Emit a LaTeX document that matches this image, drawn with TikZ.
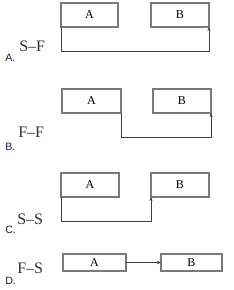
\documentclass[tikz,border=0pt]{standalone}
\usepackage{fontspec}
\setmainfont{Liberation Serif}
\setsansfont{Liberation Sans}
\usetikzlibrary{arrows.meta}
\definecolor{boxgray}{HTML}{7A7A7A}
\definecolor{linegray}{HTML}{404040}
\definecolor{navy}{HTML}{1A1A50}
\definecolor{textgray}{HTML}{303030}
\tikzset{
  box/.style={draw=boxgray, line width=0.8pt, inner sep=0pt, outer sep=0pt,
    minimum height=18pt, font=\fontsize{9}{10}\selectfont},
  conn/.style={draw=linegray, line width=0.7pt, -{Stealth[length=3pt,width=2.5pt]}},
  rel/.style={anchor=base west, inner sep=0pt, text=textgray, font=\fontsize{12}{13}\selectfont},
  opt/.style={anchor=base west, inner sep=0pt, text=navy, font=\sffamily\fontsize{8}{9}\selectfont}
}
\begin{document}
\begin{tikzpicture}[x=0.75pt, y=-0.75pt]
\useasboundingbox (0,0) rectangle (233,290);
% Panel A
\node[box, minimum width=42.75pt] (a1) at (89.5,15) {A};
\node[box, minimum width=43.5pt] (b1) at (180,15) {B};
\coordinate (c1) at (61,51);
\draw[conn] (a1.south west) -- (c1) -| (b1.south east);
\node[rel] (r1) at (19,51) {S–F};
\node[opt] (o1) at (5,61) {A.};
% Panel B
\node[box, minimum width=44.25pt] (a2) at (91.5,101) {A};
\node[box, minimum width=43.5pt] (b2) at (182,101) {B};
\coordinate (c2) at (121,137);
\draw[conn] (a2.south east) -- (c2) -| (b2.south east);
\node[rel] (r2) at (18,137) {F–F};
\node[opt] (o2) at (5,150) {B.};
% Panel C
\node[box, minimum width=43.5pt] (a3) at (90,185) {A};
\node[box, minimum width=43.5pt] (b3) at (180,185) {B};
\coordinate (c3) at (61,221);
\draw[conn] (a3.south west) -- (c3) -| (b3.south west);
\node[rel] (r3) at (17,224) {S–S};
\node[opt] (o3) at (5,233) {C.};
% Panel D
\node[box, minimum width=47.25pt, minimum height=12.75pt] (a4) at (94.5,262.5) {A};
\node[box, minimum width=45.75pt, minimum height=12.75pt] (b4) at (191.5,262.5) {B};
\draw[conn] (a4.east) -- (b4.west);
\node[rel] (r4) at (17,273) {F–S};
\node[opt] (o4) at (5,284) {D.};
\end{tikzpicture}
\end{document}
